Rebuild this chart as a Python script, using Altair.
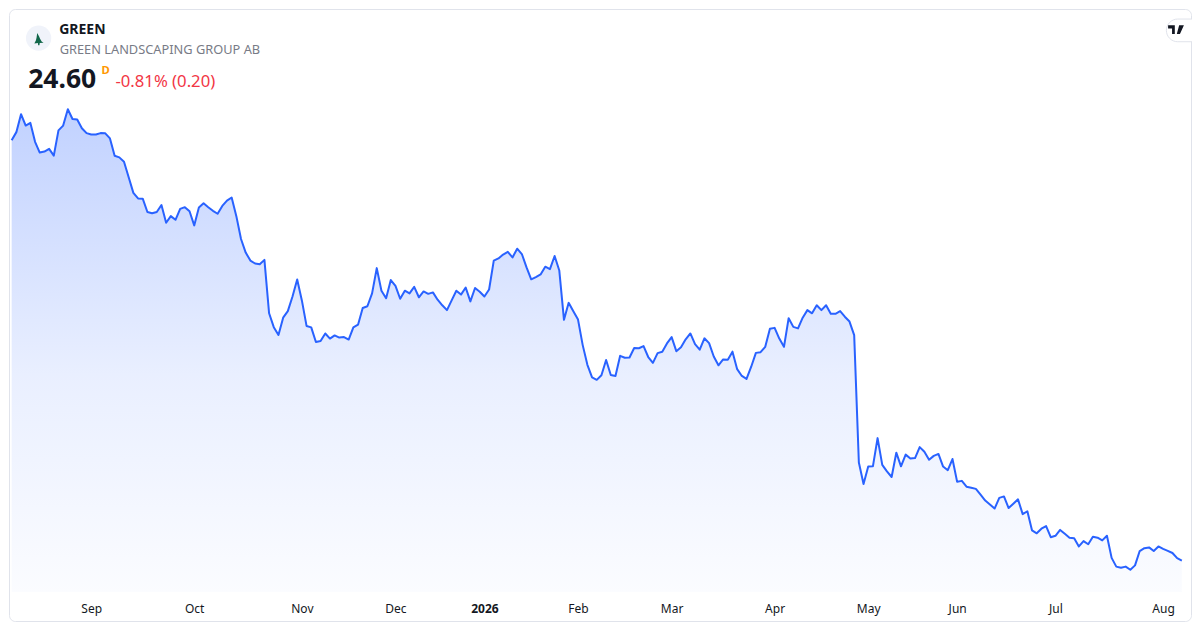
import altair as alt
import pandas as pd

# ---------------- data ----------------
ticker = "GREEN"
company = "GREEN LANDSCAPING GROUP AB"
interval = "D"

# daily closes, one per trading day (Aug 2025 -> Aug 2026)
prices = [
    59.22, 59.88, 61.36, 60.42, 60.64, 59.08, 58.20, 58.28, 58.50, 57.94,
    60.02, 60.42, 61.76, 60.96, 60.92, 60.20, 59.80, 59.68, 59.68, 59.80,
    59.78, 59.36, 57.94, 57.80, 57.44, 56.16, 54.88, 54.42, 54.40, 53.30,
    53.20, 53.30, 53.88, 52.42, 52.96, 52.66, 53.56, 53.70, 53.36, 52.20,
    53.68, 54.02, 53.70, 53.40, 53.16, 53.80, 54.24, 54.50, 52.96, 51.08,
    49.96, 49.30, 49.06, 49.00, 49.36, 44.96, 43.82, 43.18, 44.60, 45.14,
    46.34, 47.74, 46.02, 43.92, 43.80, 42.60, 42.68, 43.30, 42.88, 43.14,
    42.96, 43.00, 42.80, 43.80, 44.02, 45.40, 45.54, 46.60, 48.68, 46.82,
    46.20, 47.70, 47.22, 46.16, 46.82, 46.60, 47.14, 46.28, 46.76, 46.56,
    46.68, 46.08, 45.62, 45.22, 46.02, 46.82, 46.50, 47.08, 45.94, 47.04,
    46.74, 46.34, 46.92, 49.30, 49.48, 49.80, 50.02, 49.56, 50.28, 49.84,
    48.74, 47.76, 47.94, 48.16, 48.80, 48.60, 49.68, 48.48, 44.42, 45.82,
    45.12, 44.44, 42.34, 40.72, 39.68, 39.48, 39.86, 41.12, 39.88, 39.80,
    41.46, 41.30, 41.32, 42.10, 42.08, 42.26, 41.36, 40.88, 41.68, 41.80,
    42.48, 43.00, 41.84, 42.16, 42.82, 43.30, 42.42, 41.96, 42.90, 42.50,
    41.40, 40.68, 41.16, 41.14, 41.80, 40.36, 39.80, 39.56, 40.56, 41.70,
    41.76, 42.20, 43.68, 43.76, 42.88, 42.20, 44.56, 43.84, 43.72, 44.60,
    45.22, 44.96, 45.62, 45.22, 45.62, 44.92, 44.92, 45.14, 44.68, 44.28,
    43.16, 32.68, 30.90, 32.34, 32.36, 34.68, 32.48, 31.94, 31.48, 33.48,
    32.36, 33.32, 33.00, 33.04, 33.94, 33.56, 32.90, 33.22, 33.38, 32.34,
    32.04, 32.96, 31.08, 31.16, 30.68, 30.60, 30.50, 30.02, 29.54, 29.22,
    28.88, 29.76, 29.88, 28.92, 29.28, 29.64, 28.42, 28.66, 27.08, 26.84,
    27.22, 27.44, 26.52, 26.64, 27.12, 26.80, 26.48, 26.44, 25.76, 26.20,
    25.94, 26.56, 26.48, 26.26, 26.64, 24.82, 24.10, 24.00, 24.10, 23.84,
    24.20, 25.38, 25.62, 25.68, 25.38, 25.76, 25.56, 25.40, 25.22, 24.80,
    24.60,
]

# first trading day of each month (index into prices) and its label
tick_index = [17, 39, 62, 82, 101, 121, 141, 163, 183, 202, 223, 246]
tick_labels = ["Sep", "Oct", "Nov", "Dec", "2026", "Feb", "Mar", "Apr",
               "May", "Jun", "Jul", "Aug"]
year_tick = 101

# ---------------- derived header text ----------------
last = prices[-1]
prev = prices[-2]
chg = last - prev
pct = chg / prev * 100
price_text = f"{last:.2f}"
change_text = f"{pct:.2f}% ({abs(chg):.2f})"

df = pd.DataFrame({"i": list(range(len(prices))), "price": prices})

W, H = 1182, 612
FONT = "Noto Sans"
LINE = "#2962FF"

x_scale = alt.Scale(domain=[-0.57, 251.96], nice=False, zero=False)
y_scale = alt.Scale(domain=[19.62, 70.02], nice=False, zero=False)
BASE = 22.0

label_expr = f"{tick_labels}[indexof({tick_index}, datum.value)]"

x_enc = alt.X(
    "i:Q",
    scale=x_scale,
    axis=alt.Axis(
        values=tick_index,
        labelExpr=label_expr,
        title=None,
        grid=False,
        domain=False,
        ticks=False,
        labelFont=FONT,
        labelFontSize=12,
        labelColor="#131722",
        labelFontWeight={
            "condition": {"test": f"datum.value == {year_tick}", "value": "bold"},
            "value": "normal",
        },
        offset=-26,
        labelPadding=13,
        labelBaseline="middle",
        labelFlush=False,
        labelOverlap=False,
    ),
)
y_enc = alt.Y("price:Q", scale=y_scale, axis=None)

gradient = alt.Gradient(
    gradient="linear",
    stops=[
        alt.GradientStop(color="rgba(41,98,255,0.29)", offset=0),
        alt.GradientStop(color="rgba(41,98,255,0.10)", offset=0.55),
        alt.GradientStop(color="rgba(41,98,255,0.02)", offset=1),
    ],
    x1=0, x2=0, y1=0, y2=1,
)

base = alt.Chart(df)
area = base.mark_area(color=gradient, line=False).encode(
    x=x_enc, y=y_enc, y2=alt.datum(BASE)
)
line = base.mark_line(color=LINE, strokeWidth=2, strokeJoin="round").encode(
    x=x_enc, y=y_enc
)


def one(label):
    return alt.Chart(pd.DataFrame({"t": [label]}))


def text(label, x, y, size, color, weight="normal", align="left"):
    return one(label).mark_text(
        text=label, align=align, baseline="alphabetic", font=FONT,
        fontSize=size, color=color, fontWeight=weight,
    ).encode(x=alt.value(x), y=alt.value(y))


tree_path = ("M-0.25,-1 L0.05,-0.45 L0.2,-0.1 L0.45,0.35 L0.75,0.55 "
             "L0.15,0.6 L0.1,0.95 L-0.1,0.95 L-0.15,0.6 L-0.7,0.65 "
             "L-0.45,0.15 L-0.35,-0.3 Z")
pill_path = ("M-0.45,-0.55 L0.45,-0.55 A0.55,0.55 0 0 1 0.45,0.55 "
             "L-0.45,0.55 A0.55,0.55 0 0 1 -0.45,-0.55 Z")
tv_path = ("M-1,-0.55 L-0.15,-0.55 L-0.15,0.55 L-0.5,0.55 L-0.5,-0.15 "
           "L-1,-0.15 Z M0.4,-0.55 L1,-0.55 L0.5,0.55 L0.1,0.55 Z")

logo_bg = one("logo").mark_circle(color="#f0f3fa", opacity=1).encode(
    x=alt.value(29.6), y=alt.value(29.1), size=alt.value(640)
)
logo_tree = one("tree").mark_point(
    shape=tree_path, filled=True, color="#11674a", opacity=1
).encode(x=alt.value(29.8), y=alt.value(30.3), size=alt.value(160))
pill = one("pill").mark_point(
    shape=pill_path, filled=True, fill="white", stroke="#e0e3eb",
    strokeWidth=1, opacity=1
).encode(x=alt.value(1178), y=alt.value(21.4), size=alt.value(1700))
tv = one("tv").mark_point(
    shape=tv_path, filled=True, color="#131722", opacity=1
).encode(x=alt.value(1167), y=alt.value(20.6), size=alt.value(250))

t_ticker = text(ticker, 50.2, 25.3, 14, "#131722", "bold")
t_company = text(company, 50.7, 45.0, 12.8, "#787b86")
t_price = text(price_text, 19.2, 78.7, 26.5, "#131722", "bold")
t_int = text(interval, 92.4, 64.6, 11.3, "#ff9800", "bold")
t_change = text(change_text, 106.4, 77.7, 16.7, "#f23645")

chart = alt.layer(
    area, line, logo_bg, logo_tree, pill, tv,
    t_ticker, t_company, t_price, t_int, t_change,
).properties(
    width=W, height=H, padding=1,
    autosize=alt.AutoSizeParams(type="none"),
    background="white",
).configure_view(
    stroke="#e0e3eb", strokeWidth=1, cornerRadius=6,
)

chart.save("out.html", embed_options={"renderer": "svg", "actions": False})
